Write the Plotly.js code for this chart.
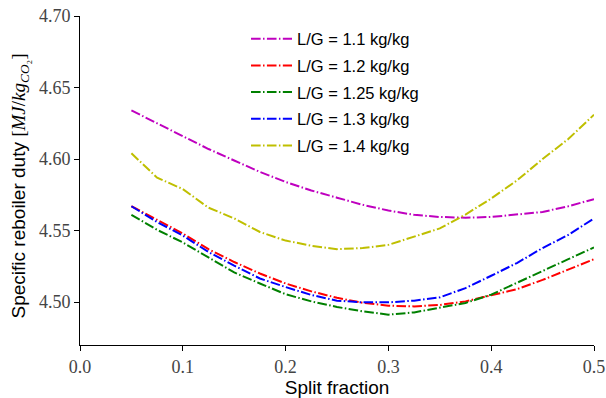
<!DOCTYPE html>
<html>
<head>
<meta charset="utf-8">
<script src="https://cdn.plot.ly/plotly-3.0.1.min.js"></script>
<style>html,body{margin:0;padding:0;background:#fff;}#chart{width:606px;height:398px;}</style>
</head>
<body>
<div id="chart"></div>
<script>
const splitFraction = [0.05, 0.075, 0.1, 0.125, 0.15, 0.175, 0.2, 0.225, 0.25, 0.275, 0.3, 0.325, 0.35, 0.375, 0.4, 0.425, 0.45, 0.475, 0.5];
const seriesNames = ["L/G = 1.1 kg/kg", "L/G = 1.2 kg/kg", "L/G = 1.25 kg/kg", "L/G = 1.3 kg/kg", "L/G = 1.4 kg/kg"];
const lg11 = [4.634, 4.625, 4.616, 4.607, 4.599, 4.591, 4.584, 4.578, 4.573, 4.568, 4.564, 4.561, 4.5595, 4.559, 4.5595, 4.561, 4.563, 4.567, 4.572];
const lg12 = [4.567, 4.5575, 4.548, 4.537, 4.528, 4.520, 4.513, 4.5075, 4.503, 4.4995, 4.4975, 4.497, 4.498, 4.5005, 4.5045, 4.509, 4.5155, 4.5225, 4.530];
const lg125 = [4.561, 4.5505, 4.5417, 4.531, 4.5207, 4.513, 4.5055, 4.5005, 4.4966, 4.4935, 4.4912, 4.4928, 4.4959, 4.4994, 4.5052, 4.5133, 4.5215, 4.530, 4.5382];
const lg13 = [4.567, 4.556, 4.5465, 4.535, 4.5255, 4.5165, 4.5105, 4.505, 4.501, 4.4998, 4.4998, 4.501, 4.5033, 4.5098, 4.5184, 4.5273, 4.5378, 4.547, 4.5585];
const lg14 = [4.604, 4.587, 4.579, 4.566, 4.5585, 4.549, 4.543, 4.5394, 4.537, 4.5378, 4.540, 4.546, 4.5515, 4.5612, 4.5724, 4.585, 4.600, 4.614, 4.631];
const seriesValues = [lg11, lg12, lg125, lg13, lg14];
const colors = ["#bf00bf", "#ff0000", "#008000", "#0000ff", "#bfbf00"];
const xTicks = [0, 0.1, 0.2, 0.3, 0.4, 0.5];
const yTicks = [4.50, 4.55, 4.60, 4.65, 4.70];
const yTitle = "Specific reboiler duty <span style=\"font-family:'Liberation Serif'\">[<i>MJ</i>/<i>kg</i><sub><i>CO</i>₂</sub>]</span>";

const traces = seriesValues.map((vals, i) => ({
  x: splitFraction, y: vals, type: "scatter", mode: "lines",
  name: seriesNames[i], legendgroup: "g" + i,
  line: {color: colors[i], width: 2, dash: "9.6px,2.4px,1.5px,2.4px"}
}));

const serif = "Liberation Serif, DejaVu Serif, serif";
const sans = "Liberation Sans, DejaVu Sans, sans-serif";

const layout = {
  width: 606, height: 398,
  margin: {l: 80, r: 12, t: 16, b: 53},
  paper_bgcolor: "#fff", plot_bgcolor: "#fff",
  showlegend: true,
  legend: {x: 0.323, y: 0.983, xanchor: "left", yanchor: "top", bgcolor: "rgba(0,0,0,0)",
           itemwidth: 41,
           font: {family: sans, size: 16.5, color: "#000"}, tracegroupgap: 2.2},
  xaxis: {range: [0, 0.5], tickvals: xTicks, ticktext: xTicks.map(v => v.toFixed(1)),
          showgrid: false, zeroline: false, showline: true, linecolor: "#000", linewidth: 1,
          ticks: "outside", ticklen: 5, tickcolor: "#000",
          tickfont: {family: serif, size: 18, color: "#444"},
          title: {text: "Split fraction", font: {family: sans, size: 19, color: "#000"}, standoff: 6}},
  yaxis: {range: [4.47, 4.70], tickvals: yTicks, ticktext: yTicks.map(v => v.toFixed(2)),
          showgrid: false, zeroline: false, showline: true, linecolor: "#000", linewidth: 1,
          ticks: "outside", ticklen: 5, tickcolor: "#000",
          tickfont: {family: serif, size: 18, color: "#444"}},
  annotations: [{text: yTitle, xref: "paper", yref: "paper", x: -0.1167, y: 0.482,
                 xanchor: "center", yanchor: "middle", textangle: -90, showarrow: false,
                 font: {family: sans, size: 19, color: "#000"}}]
};

Plotly.newPlot("chart", traces, layout, {displayModeBar: false, staticPlot: true});
</script>
</body>
</html>
